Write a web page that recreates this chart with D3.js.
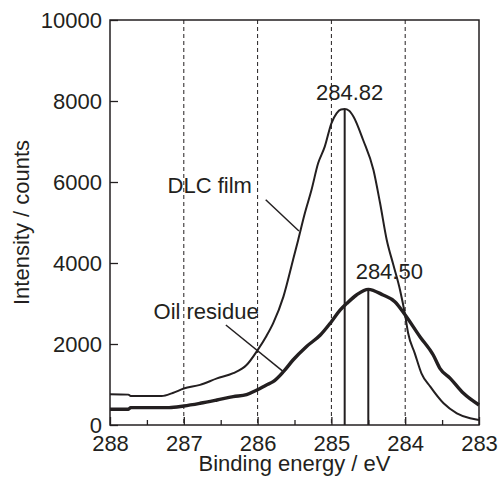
<!DOCTYPE html>
<html>
<head>
<meta charset="utf-8">
<script src="https://cdn.jsdelivr.net/npm/d3@7"></script>
<style>
  html, body { margin: 0; padding: 0; background: #fff; }
  svg { display: block; font-family: "Liberation Sans", Arial, sans-serif; }
</style>
</head>
<body>
<div id="chart"></div>
<script>
// XPS C1s spectra, binding energy (eV) vs intensity (counts)
const dlcEnergy = [288.00, 287.75, 287.72, 287.30, 287.15, 287.00, 286.78, 286.55, 286.33, 286.15,
    286.00, 285.88, 285.79, 285.65, 285.52, 285.45, 285.36, 285.27, 285.18, 285.09,
    285.00, 284.93, 284.87, 284.82, 284.76, 284.70, 284.57, 284.43, 284.34, 284.25,
    284.16, 284.07, 284.00, 283.96, 283.87, 283.78, 283.66, 283.48, 283.30, 283.12, 283.00];
const dlcCounts = [760, 750, 715, 715, 790, 900, 990, 1150, 1280, 1480,
    1850, 2200, 2510, 3170, 4074, 4570, 5227, 5802, 6461, 6872,
    7449, 7696, 7790, 7800, 7760, 7612, 7037, 6296, 5474, 4568,
    3950, 3333, 2700, 2264, 1770, 1276, 946, 536, 289, 165, 123];

const oilEnergy = [288.00, 287.75, 287.72, 287.20, 287.00, 286.78, 286.55, 286.33, 286.15, 286.01,
    285.88, 285.79, 285.65, 285.52, 285.34, 285.15, 285.00, 284.88, 284.79, 284.66,
    284.50, 284.30, 284.14, 284.00, 283.80, 283.62, 283.53, 283.39, 283.21, 283.00];
const oilCounts = [390, 390, 430, 430, 470, 536, 617, 699, 750, 864,
    988, 1069, 1317, 1605, 1934, 2222, 2551, 2840, 3004, 3210,
    3350, 3210, 3045, 2716, 2180, 1728, 1399, 1152, 782, 494];

const peakEnergy = [284.82, 284.50];
const peakCounts = [7800, 3350];
const peakLabels = ["284.82", "284.50"];

const xTicks = [288, 287, 286, 285, 284, 283];
const xMinorTicks = [287.5, 286.5, 285.5, 284.5, 283.5];
const yTicks = [0, 2000, 4000, 6000, 8000, 10000];
const gridEnergy = [287, 286, 285, 284];

// curve names with leader lines: text anchor (E, counts), leader from / to (E, counts)
const noteText = ["DLC film", "Oil residue"];
const noteAt = [[287.22, 5720], [287.41, 2610]];
const leaderFrom = [[285.89, 5560], [286.43, 2470]];
const leaderTo = [[285.44, 4790], [285.66, 1330]];

const width = 498, height = 487;
const margin = { top: 20, right: 19, bottom: 62, left: 110 };
const ink = "#231f20";
const fontSize = 22;

const svg = d3.select("#chart").append("svg")
    .attr("width", width)
    .attr("height", height);

const x = d3.scaleLinear().domain([288, 283]).range([margin.left, width - margin.right]);
const y = d3.scaleLinear().domain([0, 10000]).range([height - margin.bottom, margin.top]);

const x0 = x.range()[0], x1 = x.range()[1];
const yBottom = y.range()[0], yTop = y.range()[1];

// dashed reference lines
svg.append("g")
    .selectAll("line")
    .data(gridEnergy)
    .join("line")
    .attr("x1", d => x(d)).attr("x2", d => x(d))
    .attr("y1", yTop).attr("y2", yBottom)
    .attr("stroke", ink)
    .attr("stroke-width", 1)
    .attr("stroke-dasharray", "4,3");

// axes (ticks pointing inward)
const xAxis = svg.append("g")
    .attr("transform", `translate(0,${yBottom})`)
    .call(d3.axisBottom(x).tickValues(xTicks).tickSizeInner(-8).tickSizeOuter(0).tickFormat(d3.format("d")));
svg.append("g")
    .attr("transform", `translate(0,${yBottom})`)
    .call(d3.axisBottom(x).tickValues(xMinorTicks).tickSizeInner(-5).tickSizeOuter(0).tickFormat(""))
    .call(g => g.select(".domain").remove());

const yAxis = svg.append("g")
    .attr("transform", `translate(${x0},0)`)
    .call(d3.axisLeft(y).tickValues(yTicks).tickSizeInner(-8).tickSizeOuter(0).tickFormat(d3.format("d")));

svg.selectAll(".tick line").attr("stroke", ink).attr("stroke-width", 1.3);
svg.selectAll(".domain").attr("stroke", "none");
svg.selectAll(".tick text")
    .attr("fill", ink)
    .attr("font-size", fontSize)
    .attr("font-family", "'Liberation Sans', Arial, sans-serif");
xAxis.selectAll(".tick text").attr("dy", null).attr("y", 450.5 - yBottom);
yAxis.selectAll(".tick text").attr("dy", "0.34em").attr("x", -8);

// frame
svg.append("rect")
    .attr("x", x0).attr("y", yTop)
    .attr("width", x1 - x0).attr("height", yBottom - yTop)
    .attr("fill", "none")
    .attr("stroke", ink)
    .attr("stroke-width", 1.5);

// peak markers
peakEnergy.forEach((e, i) => {
    svg.append("line")
        .attr("x1", x(e)).attr("x2", x(e))
        .attr("y1", y(peakCounts[i])).attr("y2", yBottom)
        .attr("stroke", ink)
        .attr("stroke-width", 2);
});

const line = d3.line()
    .x(d => x(d[0]))
    .y(d => y(d[1]))
    .curve(d3.curveMonotoneX);

svg.append("path")
    .datum(d3.zip(dlcEnergy, dlcCounts))
    .attr("d", line)
    .attr("fill", "none")
    .attr("stroke", ink)
    .attr("stroke-width", 2)
    .attr("stroke-linejoin", "round");

svg.append("path")
    .datum(d3.zip(oilEnergy, oilCounts))
    .attr("d", line)
    .attr("fill", "none")
    .attr("stroke", ink)
    .attr("stroke-width", 3.4)
    .attr("stroke-linejoin", "round");

// peak labels
const peakDx = [5, 21];
const peakDy = [-9, -10];
peakLabels.forEach((label, i) => {
    svg.append("text")
        .attr("x", x(peakEnergy[i]) + peakDx[i])
        .attr("y", y(peakCounts[i]) + peakDy[i])
        .attr("text-anchor", "middle")
        .attr("font-size", fontSize)
        .attr("fill", ink)
        .text(label);
});

// curve names
noteText.forEach((t, i) => {
    svg.append("text")
        .attr("x", x(noteAt[i][0]))
        .attr("y", y(noteAt[i][1]))
        .attr("font-size", fontSize)
        .attr("fill", ink)
        .text(t);
    svg.append("line")
        .attr("x1", x(leaderFrom[i][0])).attr("y1", y(leaderFrom[i][1]))
        .attr("x2", x(leaderTo[i][0])).attr("y2", y(leaderTo[i][1]))
        .attr("stroke", ink)
        .attr("stroke-width", 1.5);
});

// axis titles
svg.append("text")
    .attr("x", (x0 + x1) / 2)
    .attr("y", 470.5)
    .attr("text-anchor", "middle")
    .attr("font-size", fontSize)
    .attr("fill", ink)
    .text("Binding energy / eV");

svg.append("text")
    .attr("transform", `translate(29,${(yTop + yBottom) / 2}) rotate(-90)`)
    .attr("text-anchor", "middle")
    .attr("font-size", fontSize)
    .attr("fill", ink)
    .text("Intensity / counts");
</script>
</body>
</html>
